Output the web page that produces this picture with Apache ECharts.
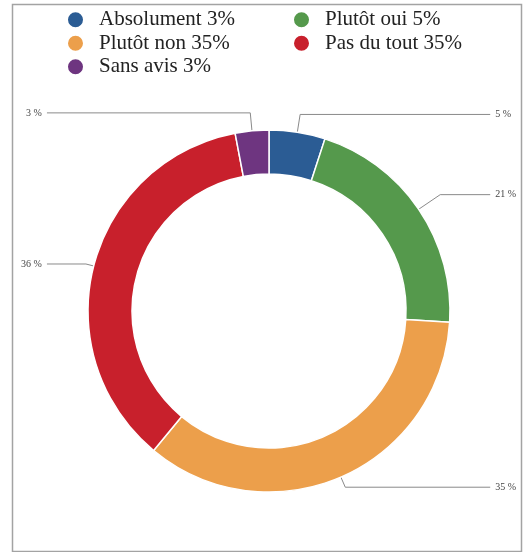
<!DOCTYPE html>
<html>
<head>
<meta charset="utf-8">
<script src="https://cdn.jsdelivr.net/npm/echarts@6/dist/echarts.min.js"></script>
<style>
  html, body { margin: 0; padding: 0; background: #fff; }
  #chart { width: 524px; height: 552px; }
</style>
</head>
<body>
<div id="chart"></div>
<script>
// Survey answers, in drawing order (clockwise from 12 o'clock)
const categories = ['Absolument', 'Plutôt oui', 'Plutôt non', 'Pas du tout', 'Sans avis'];
const values = [5, 21, 35, 36, 3];
// Legend captions as printed
const legendLabels = ['Absolument 3%', 'Plutôt oui 5%', 'Plutôt non 35%', 'Pas du tout 35%', 'Sans avis 3%'];
const colors = ['#2b5c94', '#55994c', '#ec9f4b', '#c8202c', '#6e3580'];

const serif = 'Liberation Serif';
const legendMap = {};
categories.forEach((c, i) => { legendMap[c] = legendLabels[i]; });

// Leader styling: first (radial) segment per slice, horizontal run per side
const leaderStart = [18, 26, 11, 8, 18];
const runRight = 50;
const runLeft = 39;

// Slices whose middle lies in the first half turn get their labels on the right.
const total = values.reduce((a, b) => a + b, 0);
let acc = 0;
const pieData = categories.map((c, i) => {
  const mid = (acc + values[i] / 2) / total;
  acc += values[i];
  const onRight = mid < 0.5;
  return {
    name: c,
    value: values[i],
    labelLine: { length: leaderStart[i], length2: onRight ? runRight : runLeft }
  };
});

const chart = echarts.init(document.getElementById('chart'), null, { renderer: 'canvas' });

chart.setOption({
  animation: false,
  backgroundColor: '#fff',
  color: colors,
  textStyle: { fontFamily: serif },
  graphic: [{
    type: 'rect',
    shape: { x: 12.5, y: 4.5, width: 509, height: 547 },
    style: { fill: 'none', stroke: '#a3a3a3', lineWidth: 1.5 },
    silent: true
  }],
  legend: {
    data: categories,
    left: 61,
    top: 4,
    width: 470,
    orient: 'horizontal',
    icon: 'circle',
    itemWidth: 17,
    itemHeight: 17,
    itemGap: 2,
    formatter: name => legendMap[name],
    textStyle: {
      fontFamily: serif,
      fontSize: 21,
      color: '#222',
      width: 191,
      lineHeight: 21.5,
      padding: [0, 0, 0, 10]
    }
  },
  series: [{
    type: 'pie',
    center: [269, 311],
    radius: [137, 181],
    startAngle: 90,
    clockwise: true,
    avoidLabelOverlap: true,
    itemStyle: { borderColor: '#fff', borderWidth: 1.5 },
    label: {
      show: true,
      formatter: p => p.value + ' %',
      fontFamily: serif,
      fontSize: 10,
      color: '#444',
      alignTo: 'labelLine',
      edgeDistance: 0,
      bleedMargin: 0,
      overflow: 'none',
      distanceToLabelLine: 5
    },
    labelLine: {
      show: true,
      length: 18,
      length2: 30,
      lineStyle: { color: '#8a8a8a', width: 1 }
    },
    emphasis: { disabled: true },
    data: pieData
  }]
});
</script>
</body>
</html>
